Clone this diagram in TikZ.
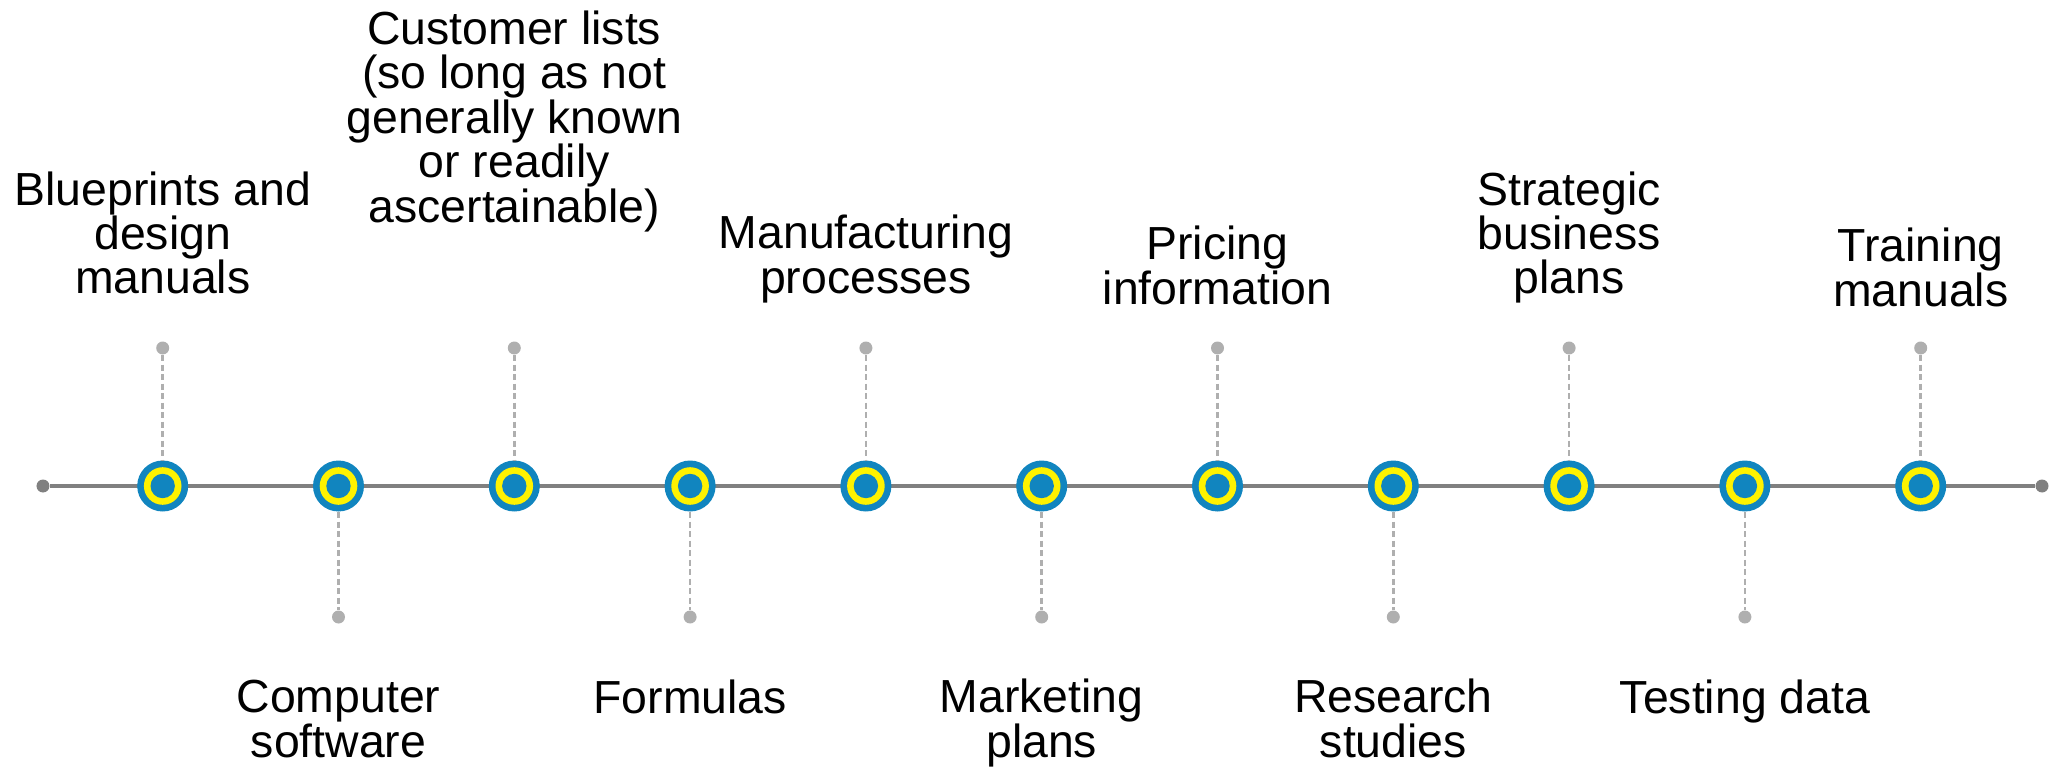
\documentclass[tikz,border=0pt]{standalone}
\usepackage{fontspec}
\setmainfont{Liberation Sans}

\definecolor{ringblue}{RGB}{17,133,191}
\definecolor{ringyellow}{RGB}{255,242,0}
\definecolor{axisgray}{RGB}{128,128,128}
\definecolor{stemgray}{RGB}{175,175,175}

\def\itemsep{1.758}

\begin{document}
\begin{tikzpicture}
\tikzstyle{axis end}=[circle,fill=axisgray,minimum size=0.13cm,inner sep=0pt]
\tikzstyle{milestone}=[circle,fill=ringblue,minimum size=0.51cm,inner sep=0pt]
\tikzstyle{stem}=[draw=stemgray,line width=0.7pt,dash pattern=on 1.7pt off 1pt]
\tikzstyle{stem end}=[circle,fill=stemgray,minimum size=0.13cm,inner sep=0pt]
\tikzstyle{itemtext}=[align=center,anchor=base,inner sep=0pt,font=\fontsize{13.2}{12.66}\selectfont]

\useasboundingbox (0,0) rectangle (20.54,7.70);

% Draw the time axis between its two end points
\node[axis end] (A-start) at (0.43,2.84) {};
\node[axis end] (A-end) at (20.42,2.84) {};
\draw[axisgray,line width=1.15pt] (A-start) -- (A-end);

% Draw the milestones on the axis
\foreach \i in {1,...,11} {
  \pgfmathsetmacro\x{1.627+(\i-1)*\itemsep}
  \node[milestone] (M-\i) at (\x,2.84) {};
  \fill[ringyellow] (M-\i.center) circle (0.188);
  \fill[ringblue] (M-\i.center) circle (0.122);
}

% Items above the axis: index / baseline of last line / text
\foreach \i/\y/\txt in {1/4.76/{Blueprints and\\design\\manuals},
    3/5.48/{Customer lists\\(so long as not\\generally known\\or readily\\ascertainable)},
    5/4.77/{Manufacturing\\processes},
    7/4.66/{Pricing\\information},
    9/4.76/{Strategic\\business\\plans},
    11/4.64/{Training\\manuals}} {
  \pgfmathsetmacro\x{1.627+(\i-1)*\itemsep}
  \node[stem end] (S-\i) at (\x,4.22) {};
  \draw[stem] (S-\i) -- (M-\i);
  \node[itemtext] (T-\i) at (\x,\y) {\txt};
}

% Items below the axis
\foreach \i/\y/\txt in {2/0.13/{Computer\\software}, 4/0.57/Formulas,
    6/0.13/{Marketing\\plans}, 8/0.13/{Research\\studies}, 10/0.57/{Testing data}} {
  \pgfmathsetmacro\x{1.627+(\i-1)*\itemsep}
  \node[stem end] (S-\i) at (\x,1.53) {};
  \draw[stem] (M-\i) -- (S-\i);
  \node[itemtext] (T-\i) at (\x,\y) {\txt};
}
\end{tikzpicture}
\end{document}
